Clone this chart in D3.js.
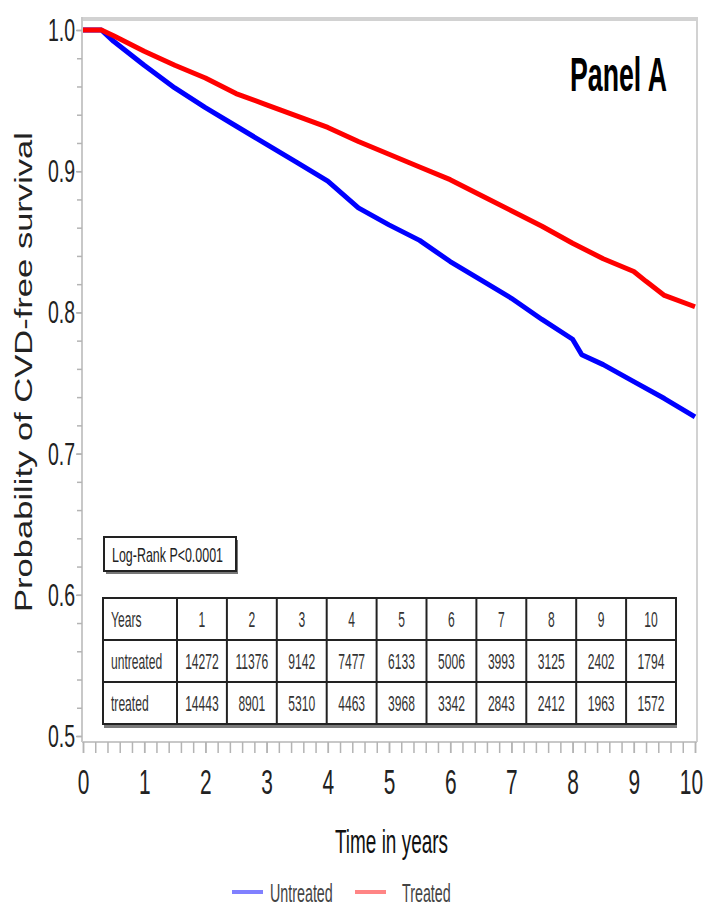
<!DOCTYPE html>
<html>
<head>
<meta charset="utf-8">
<script src="https://cdn.jsdelivr.net/npm/d3@7"></script>
<style>
    body { margin: 0; background: #fff; }
    #chart text { font-family: "Liberation Sans", Arial, sans-serif; }
</style>
</head>
<body>
<div id="chart"></div>
<script>
    // survival curves
const timeUntreated = [0, 0.3, 0.5, 1, 1.5, 2, 2.5, 3, 3.5, 4, 4.5, 5, 5.5, 6, 6.5, 7, 7.5, 8, 8.15, 8.5, 9, 9.5, 10];
const survUntreated = [1.000, 1.000, 0.992, 0.975, 0.959, 0.945, 0.932, 0.919, 0.906, 0.893, 0.874, 0.862, 0.851, 0.836, 0.823, 0.810, 0.795, 0.781, 0.770, 0.763, 0.751, 0.739, 0.726];
const timeTreated = [0, 0.3, 0.5, 1, 1.5, 2, 2.5, 3, 3.5, 4, 4.5, 5, 5.5, 6, 6.5, 7, 7.5, 8, 8.5, 9, 9.2, 9.5, 10];
const survTreated = [1.000, 1.000, 0.996, 0.985, 0.975, 0.966, 0.955, 0.947, 0.939, 0.931, 0.921, 0.912, 0.903, 0.894, 0.883, 0.872, 0.861, 0.849, 0.838, 0.829, 0.822, 0.812, 0.804];

    // numbers at risk table
const years = [1, 2, 3, 4, 5, 6, 7, 8, 9, 10];
const atRiskUntreated = [14272, 11376, 9142, 7477, 6133, 5006, 3993, 3125, 2402, 1794];
const atRiskTreated = [14443, 8901, 5310, 4463, 3968, 3342, 2843, 2412, 1963, 1572];
const tableRows = ["Years", "untreated", "treated"];

    // axis ticks
const xTicks = [0, 1, 2, 3, 4, 5, 6, 7, 8, 9, 10];
const yTicks = [0.5, 0.6, 0.7, 0.8, 0.9, 1.0];

const seriesNames = ["Untreated", "Treated"];
const seriesColors = ["#0000ff", "#ff0000"];
const legendColors = ["#8080ff", "#ff8585"];

function squeezed(parent, x, y, str, size, sx, anchor) {
    return parent.append("text")
        .attr("transform", `translate(${x},${y}) scale(${sx},1)`)
        .attr("text-anchor", anchor)
        .style("font-size", size + "px")
        .text(str);
}

function drawChart() {
    const width = 705, height = 909;
    const plot = { left: 82, right: 697, top: 17, bottom: 742 };

    const svg = d3.select("#chart")
        .append("svg")
        .attr("width", width)
        .attr("height", height);

    const xScale = d3.scaleLinear().domain([0, 10]).range([83, 695]);
    const yScale = d3.scaleLinear().domain([0.5, 1.0]).range([736, 30]);

        // frame: top and right grey lines
    svg.append("line")
        .attr("x1", plot.left).attr("x2", plot.right)
        .attr("y1", plot.top + 2).attr("y2", plot.top + 2)
        .attr("stroke", "#d2d2d2").attr("stroke-width", 4);
    svg.append("line")
        .attr("x1", plot.right).attr("x2", plot.right)
        .attr("y1", plot.top).attr("y2", plot.bottom)
        .attr("stroke", "#d2d2d2").attr("stroke-width", 2);

        // y axis (major + minor ticks)
    const yAxis = svg.append("g")
        .attr("class", "y-axis")
        .attr("transform", `translate(${plot.left},0)`)
        .call(d3.axisLeft(yScale).tickValues(yTicks).tickFormat(d3.format(".1f")).tickSize(6));
    yAxis.select(".domain").attr("d", `M0,${plot.top}V${plot.bottom}`);
    svg.append("g")
        .attr("transform", `translate(${plot.left},0)`)
        .call(d3.axisLeft(yScale).tickValues(d3.range(25, 51).map(d => d / 50)).tickFormat("").tickSize(5))
        .select(".domain").remove();

        // x axis (major + minor ticks)
    const xAxis = svg.append("g")
        .attr("class", "x-axis")
        .attr("transform", `translate(0,${plot.bottom})`)
        .call(d3.axisBottom(xScale).tickValues(xTicks).tickFormat(d3.format("d")).tickSize(11));
    xAxis.select(".domain").attr("d", `M${plot.left},0H${plot.right}`);
    svg.append("g")
        .attr("transform", `translate(0,${plot.bottom})`)
        .call(d3.axisBottom(xScale).tickValues(d3.range(0, 51).map(d => d / 5)).tickFormat("").tickSize(11))
        .select(".domain").remove();

    svg.selectAll(".domain").attr("stroke", "#c8c8c8").attr("stroke-width", 2);
    svg.selectAll(".tick line").attr("stroke", "#b4b4b4").attr("stroke-width", 1.5);

    yAxis.selectAll("text")
        .attr("x", -11)
        .attr("dy", "0.34em")
        .attr("transform", "scale(0.63,1)")
        .style("font-size", "31px")
        .attr("fill", "#222");
    xAxis.selectAll("text")
        .attr("x", d => d === 10 ? -7 : 0)   // keep "10" inside the window
        .attr("y", 26)
        .attr("dy", "0.71em")
        .attr("transform", "scale(0.58,1)")
        .style("font-size", "36px")
        .attr("fill", "#222");

        // axis titles
    svg.append("text")
        .attr("transform", "translate(32,372) rotate(-90)")
        .attr("text-anchor", "middle")
        .attr("textLength", 480)
        .attr("lengthAdjust", "spacingAndGlyphs")
        .style("font-size", "23px")
        .attr("fill", "#222")
        .text("Probability of CVD-free survival");

    svg.append("text")
        .attr("x", 335).attr("y", 853)
        .attr("textLength", 113)
        .attr("lengthAdjust", "spacingAndGlyphs")
        .style("font-size", "34px")
        .attr("fill", "#111")
        .text("Time in years");

    squeezed(svg, 570, 91, "Panel A", 49, 0.545, "start")
        .style("font-weight", "bold")
        .attr("fill", "#000");

        // survival curves
    const line = d3.line()
        .x(d => xScale(d[0]))
        .y(d => yScale(d[1]));

    const curves = [
        d3.zip(timeUntreated, survUntreated),
        d3.zip(timeTreated, survTreated)
    ];

    svg.selectAll(".km")
        .data(curves)
        .enter()
        .append("path")
        .attr("class", "km")
        .attr("d", line)
        .attr("fill", "none")
        .attr("stroke", (d, i) => seriesColors[i])
        .attr("stroke-width", 5)
        .attr("stroke-linejoin", "round");

        // log-rank box
    svg.append("rect")
        .attr("x", 106).attr("y", 540).attr("width", 132).attr("height", 34)
        .attr("fill", "#777");
    svg.append("rect")
        .attr("x", 104).attr("y", 537).attr("width", 132).attr("height", 34)
        .attr("fill", "#fff").attr("stroke", "#222").attr("stroke-width", 2);
    svg.append("text")
        .attr("x", 112).attr("y", 562)
        .attr("textLength", 111)
        .attr("lengthAdjust", "spacingAndGlyphs")
        .style("font-size", "21px")
        .attr("fill", "#222")
        .text("Log-Rank P<0.0001");

        // numbers at risk table
    const tableLeft = 103, firstCol = 177, tableRight = 676;
    const colScale = d3.scaleBand().domain(years).range([firstCol, tableRight]);
    const rowScale = d3.scaleBand().domain(tableRows).range([598, 724]);
    const table = svg.append("g").attr("class", "risk-table");

    table.append("rect")
        .attr("x", tableLeft + 1).attr("y", rowScale.range()[0] + 4)
        .attr("width", tableRight - tableLeft).attr("height", rowScale.range()[1] - rowScale.range()[0])
        .attr("fill", "#7a7a7a");
    table.append("rect")
        .attr("x", tableLeft).attr("y", rowScale.range()[0])
        .attr("width", tableRight - tableLeft).attr("height", rowScale.range()[1] - rowScale.range()[0])
        .attr("fill", "#fff").attr("stroke", "#222").attr("stroke-width", 2);

    table.selectAll(".row-line")
        .data(tableRows.slice(1))
        .enter()
        .append("line")
        .attr("x1", tableLeft).attr("x2", tableRight)
        .attr("y1", d => rowScale(d)).attr("y2", d => rowScale(d))
        .attr("stroke", "#222").attr("stroke-width", 2);

    table.selectAll(".col-line")
        .data(years)
        .enter()
        .append("line")
        .attr("x1", d => colScale(d)).attr("x2", d => colScale(d))
        .attr("y1", rowScale.range()[0]).attr("y2", rowScale.range()[1])
        .attr("stroke", "#222").attr("stroke-width", 2);

    tableRows.forEach(function (r) {
        squeezed(table, 111, rowScale(r) + rowScale.bandwidth() / 2 + 8, r, 22, 0.55, "start")
            .attr("fill", "#333");
    });

    const cells = [years, atRiskUntreated, atRiskTreated];
    cells.forEach(function (vals, ri) {
        vals.forEach(function (v, ci) {
            squeezed(table, colScale(years[ci]) + colScale.bandwidth() / 2,
                rowScale(tableRows[ri]) + rowScale.bandwidth() / 2 + 8, v, 22, 0.55, "middle")
                .attr("fill", "#333");
        });
    });

        // legend
    const legendX = d3.scalePoint().domain(seriesNames).range([232, 355]);
    const legend = svg.append("g").attr("class", "legend");
    const legendItem = legend.selectAll(".legend-item")
        .data(seriesNames)
        .enter()
        .append("g")
        .attr("class", "legend-item")
        .attr("transform", d => `translate(${legendX(d)},892)`);

    legendItem.append("line")
        .attr("x1", 0).attr("x2", 31)
        .attr("stroke", (d, i) => legendColors[i])
        .attr("stroke-width", 4);

    legendItem.each(function (d, i) {
        squeezed(d3.select(this), i === 0 ? 38 : 47, 10, d, 26, 0.55, "start")
            .attr("fill", "#444");
    });
}

window.onload = drawChart;
</script>
</body>
</html>
